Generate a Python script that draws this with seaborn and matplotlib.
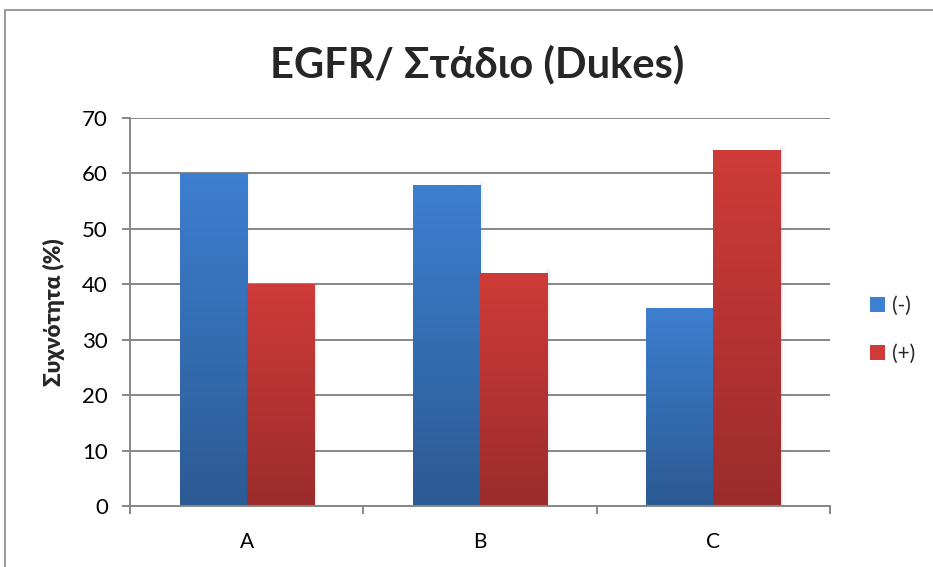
import numpy as np
import pandas as pd
import matplotlib
matplotlib.use("Agg")
import matplotlib.pyplot as plt
import matplotlib.patches as mpatches
from matplotlib.colors import LinearSegmentedColormap
import seaborn as sns

# Dukes stage categories and EGFR frequencies (%)
stages = ["A", "B", "C"]
egfr_neg = [60.0, 57.9, 35.7]
egfr_pos = [40.0, 42.1, 64.3]
series_labels = ["(-)", "(+)"]
y_ticks = [0, 10, 20, 30, 40, 50, 60, 70]

df = pd.DataFrame({
    "stage": stages * 2,
    "value": egfr_neg + egfr_pos,
    "series": [series_labels[0]] * len(stages) + [series_labels[1]] * len(stages),
})

sns.set_theme(style="white")
plt.rcParams["font.family"] = ["Lato", "DejaVu Sans"]

# top -> bottom gradient colours for each series
grad = {
    "(-)": ("#3d7fd0", "#2c5a93"),
    "(+)": ("#cf3b38", "#9b2c2c"),
}

fig = plt.figure(figsize=(9.33, 5.67), dpi=100)
ax = fig.add_axes([130 / 933, 1 - 506 / 567, 700 / 933, 388 / 567])

sns.barplot(data=df, x="stage", y="value", hue="series", order=stages,
            hue_order=series_labels, width=0.575, ax=ax, legend=False,
            palette=[grad[s][0] for s in series_labels], saturation=1,
            edgecolor="none", linewidth=0, zorder=3)

ax.set_xlim(-0.5, 2.5)
ax.set_ylim(0, 70)

# replace flat fills with vertical gradients clipped to each bar
bars = [p for p in ax.patches if isinstance(p, mpatches.Rectangle)]
grad_img = np.linspace(1, 0, 256).reshape(-1, 1)
for i, bar in enumerate(bars):
    s = series_labels[i // len(stages)]
    top, bottom = grad[s]
    cmap = LinearSegmentedColormap.from_list(s, [bottom, top])
    x0, y0 = bar.get_x(), bar.get_y()
    w, h = bar.get_width(), bar.get_height()
    # soft shadow on the right side
    for k, a in enumerate([0.10, 0.06, 0.03]):
        sh = mpatches.Rectangle((x0 + w, y0), 0.006 * (k + 1), h + 0.25 * (k + 1),
                                facecolor="#808080", alpha=a, edgecolor="none", zorder=2.5)
        ax.add_patch(sh)
    im = ax.imshow(grad_img, cmap=cmap, aspect="auto",
                   extent=[x0, x0 + w, y0, y0 + h], zorder=3.2, vmin=0, vmax=1)
    im.set_clip_path(bar)

ax.set_xlim(-0.5, 2.5)
ax.set_ylim(0, 70)

# gridlines
ax.set_yticks(y_ticks)
ax.yaxis.grid(True, color="#878787", linewidth=1.4, zorder=1)
ax.xaxis.grid(False)
ax.set_axisbelow(True)

for side in ["top", "right"]:
    ax.spines[side].set_visible(False)
for side in ["left", "bottom"]:
    ax.spines[side].set_color("#878787")
    ax.spines[side].set_linewidth(1.4)
    ax.spines[side].set_zorder(4)

ax.tick_params(axis="y", which="major", length=6, width=1.4, color="#878787",
               direction="out", left=True, pad=10, labelsize=16, labelcolor="black")
ax.set_xticks(range(len(stages)))
ax.set_xticklabels(stages)
ax.set_xticks([-0.5, 0.5, 1.5, 2.5], minor=True)
ax.tick_params(axis="x", which="major", length=0, pad=19, labelsize=15, labelcolor="black")
ax.tick_params(axis="x", which="minor", length=6, width=1.4, color="#878787",
               direction="out", bottom=True)

ax.set_xlabel("")
ax.set_ylabel("Συχνότητα (%)", fontsize=16, fontweight="heavy")
ax.yaxis.set_label_coords((65 - 130) / 700, 0.5)

fig.text(477 / 933, 1 - 64 / 567, "EGFR/ Στάδιο (Dukes)", ha="center", va="center",
         fontsize=30, fontweight="bold")

# legend
handles = [mpatches.Patch(facecolor=grad[s][0], edgecolor="none") for s in series_labels]
fig.legend(handles, series_labels, loc="center left",
           bbox_to_anchor=(851 / 933, 1 - 330 / 567), frameon=False, fontsize=15,
           handlelength=0.75, handleheight=0.75, handletextpad=0.3, labelspacing=1.35)

# outer chart border
fig.patches.append(mpatches.Rectangle((5 / 933, -0.5), 2, 1 - 10 / 567 + 0.5,
                                      transform=fig.transFigure, fill=False,
                                      edgecolor="#888888", linewidth=1.2))

fig.savefig("out.png", dpi=100)
